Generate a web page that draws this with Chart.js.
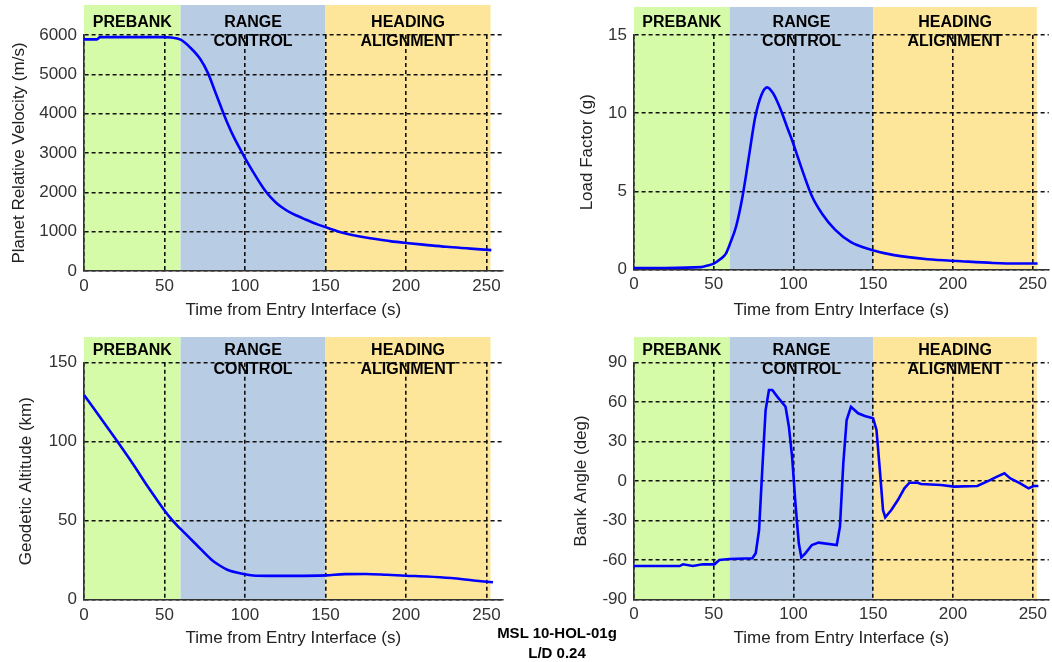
<!DOCTYPE html>
<html lang="en">

<head>
    <meta charset="utf-8">
    <style>
        body { margin: 0; background: #fff; width: 1052px; height: 662px; position: relative; overflow: hidden; }
        canvas { position: absolute; }
        #note { position: absolute; left: 457px; top: 623px; width: 200px; text-align: center;
                font: bold 15px "Liberation Sans", Arial, sans-serif; line-height: 20px; color: #000; }
    </style>
</head>

<body>
    <canvas id="velChart" width="526" height="330" style="left:0;top:0"></canvas>
    <canvas id="loadChart" width="526" height="330" style="left:526px;top:0"></canvas>
    <canvas id="altChart" width="526" height="332" style="left:0;top:330px"></canvas>
    <canvas id="bankChart" width="526" height="332" style="left:526px;top:330px"></canvas>
    <div id="note">MSL 10-HOL-01g<br>L/D 0.24</div>

    <script src="https://cdn.jsdelivr.net/npm/chart.js"></script>
    <script>
        // entry phases (seconds from entry interface)
        const phaseNames = [['PREBANK'], ['RANGE', 'CONTROL'], ['HEADING', 'ALIGNMENT']];
        const phaseEdges = [0, 60, 150, 252.5];
        const xTicks = [0, 50, 100, 150, 200, 250];

        const velTime = [0, 8, 10, 30, 50, 54, 60, 66, 72, 77, 81, 85, 89, 93, 97, 101, 105, 112, 116, 120, 124, 128, 132, 137, 145, 152, 160, 175, 190, 200, 212, 225, 240, 253];
        const velValue = [5890, 5890, 5945, 5945, 5945, 5935, 5880, 5680, 5400, 5030, 4610, 4180, 3770, 3410, 3100, 2800, 2520, 2070, 1870, 1710, 1590, 1490, 1410, 1320, 1185, 1085, 980, 850, 760, 713, 665, 615, 570, 530];

        const loadTime = [0, 20, 42, 46, 50, 54, 57.6, 60, 64, 68, 72, 76, 80, 83.5, 87, 90, 93, 96, 99, 102, 106, 111.5, 118, 126, 136, 149, 163, 184, 205, 225, 240, 253];
        const loadValue = [0.1, 0.1, 0.15, 0.25, 0.38, 0.65, 1.02, 1.6, 2.75, 4.65, 7.2, 9.75, 11.2, 11.65, 11.3, 10.7, 9.95, 9.1, 8.3, 7.4, 6.2, 4.7, 3.55, 2.55, 1.75, 1.25, 0.92, 0.66, 0.53, 0.42, 0.38, 0.38];

        const altTime = [0, 10, 20, 30, 40, 46, 50, 54, 58, 62, 66, 70, 79, 84, 89, 99, 105, 115, 130, 150, 162, 175, 188, 200, 213, 228, 242, 254];
        const altValue = [129.6, 115.5, 101.2, 86.5, 71, 62.2, 56.5, 51.3, 46.8, 42.8, 38.7, 34.6, 25.5, 21.8, 19, 16.3, 15.3, 15.1, 15.1, 15.4, 16.2, 16.3, 15.8, 15.2, 14.7, 13.7, 12.2, 11];

        const bankTime = [0, 28.6, 30.7, 36.9, 43.1, 50.4, 53.5, 59.7, 74.2, 76.3, 78.4, 80.4, 82.5, 84.6, 86.7, 89.8, 95, 97.1, 99.1, 101.2, 103.3, 104.9, 107.4, 111.5, 115.7, 127.1, 129.1, 131.2, 133.3, 136, 140.5, 144.7, 149.9, 152, 154.1, 156.1, 157.5, 161.3, 165.4, 169.5, 172.7, 177.9, 179.9, 192.4, 200.7, 215.2, 223.5, 227.6, 232.2, 235.9, 242.1, 247.3, 250.4, 253.5];
        const bankValue = [-64.7, -64.7, -63.4, -64.7, -63.4, -63.4, -60.1, -59.3, -58.8, -55, -37.3, 8.4, 54, 69.2, 69.2, 64.2, 56.5, 41.3, 18.5, -17, -47.4, -58.1, -55, -48.7, -46.9, -48.7, -34.7, 13.4, 46.4, 56.5, 51.5, 49.4, 47.7, 38.8, 8.4, -22.1, -27.6, -22.1, -14.5, -5.6, -1.3, -1.3, -2.3, -3, -4.3, -3.8, 0.8, 3.3, 5.8, 2, -1.8, -5.6, -3.8, -3.8];

        const phaseColors = ['#d6fba8', '#b8cce4', '#fde699'];
        const fontFamily = '"Liberation Sans", Arial, sans-serif';

        // shaded phases + their names, drawn under the grid
        const phasePlugin = {
            id: 'phases',
            beforeDraw(chart, args, opts) {
                const ctx = chart.ctx;
                const area = chart.chartArea;
                const xs = chart.scales.x;
                ctx.save();
                for (let i = 0; i < phaseColors.length; i++) {
                    const x0 = xs.getPixelForValue(phaseEdges[i]);
                    const x1 = xs.getPixelForValue(phaseEdges[i + 1]);
                    ctx.fillStyle = phaseColors[i];
                    ctx.fillRect(x0, opts.bandTop, x1 - x0, area.bottom - opts.bandTop);
                    ctx.fillStyle = '#000';
                    ctx.font = 'bold 16px ' + fontFamily;
                    ctx.textAlign = 'center';
                    ctx.textBaseline = 'middle';
                    phaseNames[i].forEach((t, k) => {
                        ctx.fillText(t, (x0 + x1) / 2, area.top - 12 + k * 19);
                    });
                }
                ctx.restore();
            }
        };

        function makePlot(id, time, values, c) {
            const points = time.map((t, i) => ({ x: t, y: values[i] }));
            const canvas = document.getElementById(id);
            const H = canvas.height;
            return new Chart(canvas, {
                type: 'line',
                data: {
                    datasets: [{
                        data: points,
                        borderColor: '#0000ff',
                        borderWidth: 2.6,
                        pointRadius: 0,
                        cubicInterpolationMode: c.smooth ? 'monotone' : 'default',
                        tension: 0
                    }]
                },
                plugins: [phasePlugin],
                options: {
                    responsive: false,
                    animation: false,
                    events: [],
                    layout: { padding: { left: 0, top: c.top, right: c.padRight, bottom: 0 } },
                    plugins: {
                        legend: { display: false },
                        tooltip: { enabled: false },
                        phases: { bandTop: c.bandTop }
                    },
                    scales: {
                        x: {
                            type: 'linear',
                            min: 0,
                            max: 260,
                            afterBuildTicks: s => { s.ticks = xTicks.map(v => ({ value: v })); },
                            afterFit: s => { s.height = H - c.bottom; },
                            grid: { color: '#111', lineWidth: 1.6, drawTicks: false },
                            border: { color: '#333', width: 1.6, dash: [4, 3] },
                            ticks: { color: '#333', padding: 5, font: { family: fontFamily, size: 17 },
                                     callback: v => String(v) },
                            title: {
                                display: true,
                                text: 'Time from Entry Interface (s)',
                                color: '#222',
                                padding: { bottom: c.xTitlePad },
                                font: { family: fontFamily, size: 17 }
                            }
                        },
                        y: {
                            min: c.yTicks[0],
                            max: c.yTicks[c.yTicks.length - 1],
                            afterBuildTicks: s => { s.ticks = c.yTicks.map(v => ({ value: v })); },
                            afterFit: s => { s.width = c.left; },
                            grid: { color: '#111', lineWidth: 1.6, drawTicks: false },
                            border: { color: '#333', width: 1.6, dash: [4, 3] },
                            ticks: { color: '#333', padding: 7, font: { family: fontFamily, size: 17 },
                                     callback: v => String(v) },
                            title: {
                                display: true,
                                text: c.yTitle,
                                color: '#222',
                                padding: { top: c.yTitlePad },
                                font: { family: fontFamily, size: 17 }
                            }
                        }
                    }
                }
            });
        }

        makePlot('velChart', velTime, velValue, {
            yTitle: 'Planet Relative Velocity (m/s)', yTicks: [0, 1000, 2000, 3000, 4000, 5000, 6000],
            left: 84, top: 35, bottom: 271, padRight: 23.4, bandTop: 5, yTitlePad: 9, xTitlePad: 9.8, smooth: true
        });
        makePlot('loadChart', loadTime, loadValue, {
            yTitle: 'Load Factor (g)', yTicks: [0, 5, 10, 15],
            left: 108, top: 35, bottom: 269.5, padRight: 0, bandTop: 7, yTitlePad: 51.5, xTitlePad: 9.8, smooth: true
        });
        makePlot('altChart', altTime, altValue, {
            yTitle: 'Geodetic Altitude (km)', yTicks: [0, 50, 100, 150],
            left: 84, top: 32.7, bottom: 269.7, padRight: 23.4, bandTop: 7, yTitlePad: 16.5, xTitlePad: 13.8, smooth: true
        });
        makePlot('bankChart', bankTime, bankValue, {
            yTitle: 'Bank Angle (deg)', yTicks: [-90, -60, -30, 0, 30, 60, 90],
            left: 108, top: 32.7, bottom: 269.3, padRight: 0, bandTop: 7, yTitlePad: 45.5, xTitlePad: 13.8, smooth: false
        });
    </script>
</body>

</html>
